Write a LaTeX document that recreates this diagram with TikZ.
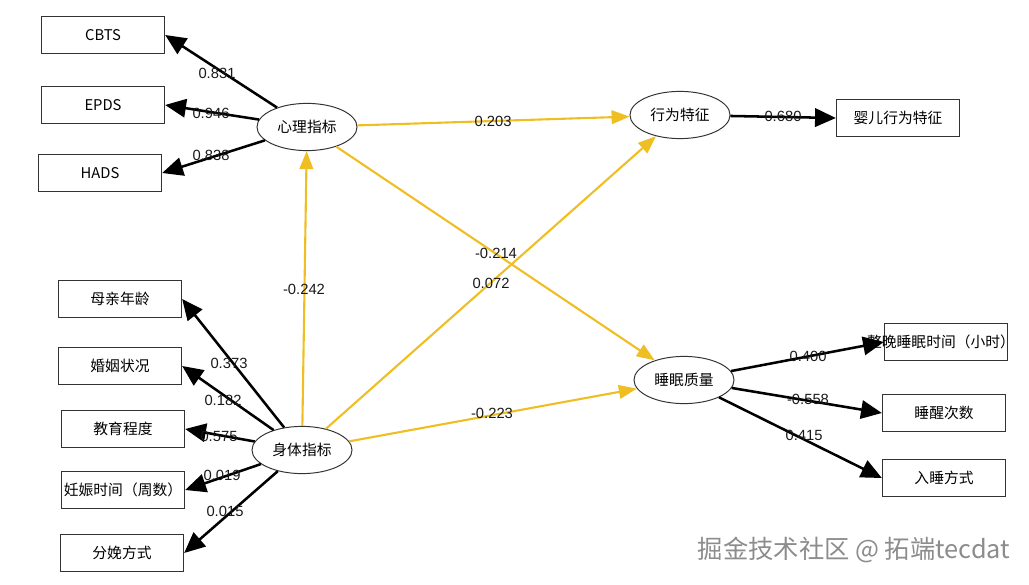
\documentclass[tikz,border=0pt]{standalone}
\usepackage{fontspec}
\setmainfont{Liberation Sans}
\newfontfamily\cjk{Noto Sans CJK SC}
\usetikzlibrary{arrows.meta,shapes.geometric,positioning}
\definecolor{pathgold}{RGB}{238,190,35}

\begin{document}
\begin{tikzpicture}[x=0.025cm,y=-0.025cm,every node/.style={font=\fontsize{10.5}{12}\selectfont},
 box/.style={draw=black!80,line width=0.9pt,minimum width=3.075cm,minimum height=0.93cm,font=\cjk\fontsize{10.5}{12}\selectfont},
 latent/.style={draw=black!80,ellipse,line width=0.7pt,minimum width=2.5cm,minimum height=1.18cm,inner sep=0pt,font=\cjk\fontsize{10.5}{12}\selectfont},
 load/.style={-{Triangle[length=0.52cm,width=0.46cm]},line width=1.8pt},
 effect/.style={-{Triangle[length=0.45cm,width=0.34cm]},line width=1.5pt,draw=pathgold},
 coef/.style={inner sep=1pt,text=black!90}]
\useasboundingbox (0,0) rectangle (1029,584);
% latent variables
\node[latent] (psy) at (307,127) {心理指标};
\node[latent] (phys) at (302,450) {身体指标};
\node[latent] (beh) at (680,115) {行为特征};
\node[latent] (sleep) at (684,380) {睡眠质量};
% indicators
\node[box] (cbts) at (103,35) {CBTS};
\node[box] (epds) at (103,105) {EPDS};
\node[box] (hads) at (100,173) {HADS};
\node[box] (age) at (120,299) {母亲年龄};
\node[box] (marry) at (120,366) {婚姻状况};
\node[box] (edu) at (123,429) {教育程度};
\node[box] (weeks) at (123,490) {\makebox[0pt]{妊娠时间（周数）}};
\node[box] (birth) at (122,553) {分娩方式};
\node[box] (infant) at (898,118) {婴儿行为特征};
\node[box] (hours) at (946,342) {\makebox[0pt]{\hspace{-0.25cm}整晚睡眠时间（小时）}};
\node[box] (wake) at (944,413) {睡醒次数};
\node[box] (onset) at (944,478) {入睡方式};
% loadings
\draw[load] (psy) -- (cbts.east);
\draw[load] (psy) -- (epds.east);
\draw[load] (psy) -- (hads.east);
\draw[load] (phys) -- (age.east);
\draw[load] (phys) -- (marry.east);
\draw[load] (phys) -- (edu.east);
\draw[load] (phys) -- (weeks.east);
\draw[load] (phys) -- (birth.east);
\draw[load] (beh) -- (infant.west);
\draw[load] (sleep) -- (hours.west);
\draw[load] (sleep) -- (wake.west);
\draw[load] (sleep) -- (onset.west);
% structural paths
\draw[effect] (psy) -- (beh);
\draw[effect] (psy) -- (sleep);
\draw[effect] (phys) -- (psy);
\draw[effect] (phys) -- (beh);
\draw[effect] (phys) -- (sleep);
% coefficients
\node[coef] (c1) at (217,73) {0.831};
\node[coef] (c2) at (211,113) {0.946};
\node[coef] (c3) at (211,155) {0.838};
\node[coef] (c4) at (493,121) {0.203};
\node[coef] (c5) at (783,116) {0.680};
\node[coef] (c6) at (304,289) {-0.242};
\node[coef] (c7) at (496,253) {-0.214};
\node[coef] (c8) at (491,283) {0.072};
\node[coef] (c9) at (229,363) {0.373};
\node[coef] (c10) at (223,400) {0.182};
\node[coef] (c11) at (219,436) {0.575};
\node[coef] (c12) at (222,475) {0.019};
\node[coef] (c13) at (225,511) {0.015};
\node[coef] (c14) at (492,413) {-0.223};
\node[coef] (c15) at (808,356) {0.400};
\node[coef] (c16) at (808,399) {-0.558};
\node[coef] (c17) at (804,435) {0.415};
% watermark
\node[text=black!45,font=\cjk\fontsize{18}{21}\selectfont] (mark) at (854,550) {掘金技术社区 @ 拓端tecdat};
\end{tikzpicture}
\end{document}
